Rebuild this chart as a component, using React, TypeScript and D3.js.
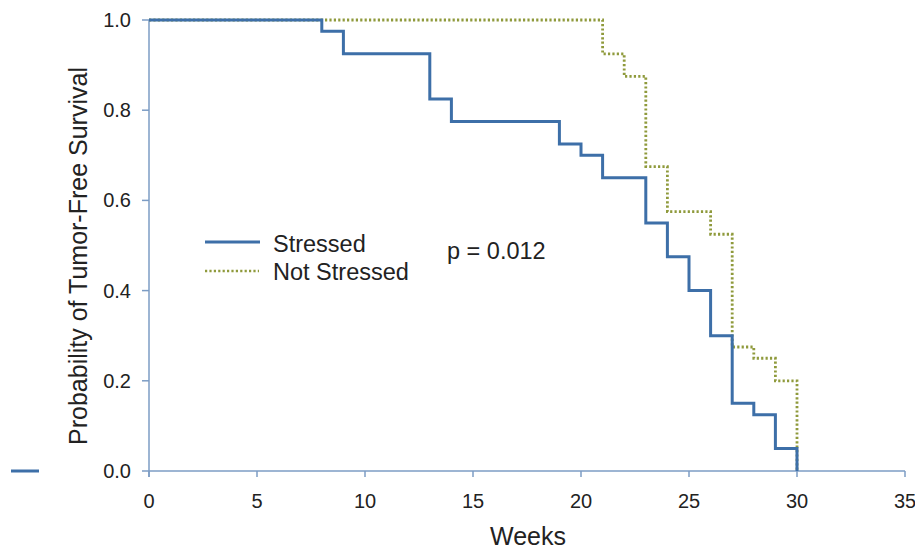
import React from "react";
import * as d3 from "d3";

const stressedTimes = [0, 8, 9, 13, 14, 19, 20, 21, 23, 24, 25, 26, 27, 28, 29, 30];
const stressedSurv = [1.0, 0.975, 0.925, 0.825, 0.775, 0.725, 0.7, 0.65, 0.55, 0.475, 0.4, 0.3, 0.15, 0.125, 0.05, 0.0];
const notStressedTimes = [0, 21, 22, 23, 24, 26, 27, 28, 29, 30];
const notStressedSurv = [1.0, 0.925, 0.875, 0.675, 0.575, 0.525, 0.275, 0.25, 0.2, 0.0];
const xTicks = [0, 5, 10, 15, 20, 25, 30, 35];
const yTicks = [0, 0.2, 0.4, 0.6, 0.8, 1.0];
const seriesNames = ["Stressed", "Not Stressed"];
const pValueLabel = "p = 0.012";

const W = 915;
const H = 553;
const FONT = "'Liberation Sans', Arial, sans-serif";
const BLUE = "#3d6fa8";
const OLIVE = "#8f9a3c";
const AXIS = "#7c9cc4";

export default function App() {
  const x = d3.scaleLinear().domain([0, 35]).range([149, 905]);
  const y = d3.scaleLinear().domain([0, 1]).range([471, 20]);
  const line = d3
    .line<[number, number]>()
    .x((d) => x(d[0]))
    .y((d) => y(d[1]))
    .curve(d3.curveStepAfter);
  const stressedPts: [number, number][] = stressedTimes.map((t, i) => [t, stressedSurv[i]]);
  const notPts: [number, number][] = notStressedTimes.map((t, i) => [t, notStressedSurv[i]]);

  return (
    <svg
      width={W}
      height={H}
      style={{ position: "absolute", left: 0, top: 0, background: "#fff" }}
      fontFamily={FONT}
    >
      {/* stray mark on left */}
      <line x1={11} x2={39} y1={471} y2={471} stroke={BLUE} strokeWidth={3} />
      {/* axes */}
      <line x1={x(0)} x2={x(35)} y1={y(0)} y2={y(0)} stroke={AXIS} strokeWidth={1.5} />
      <line x1={x(0)} x2={x(0)} y1={y(0) + 6} y2={y(1)} stroke={AXIS} strokeWidth={1.5} />
      {xTicks.map((t) => (
        <g key={"x" + t}>
          <line x1={x(t)} x2={x(t)} y1={y(0)} y2={y(0) + 6} stroke={AXIS} strokeWidth={1.5} />
          <text x={x(t)} y={508} textAnchor="middle" fontSize={20} fill="#222">
            {t}
          </text>
        </g>
      ))}
      {yTicks.map((t) => (
        <g key={"y" + t}>
          <line x1={x(0) - 7} x2={x(0)} y1={y(t)} y2={y(t)} stroke={AXIS} strokeWidth={1.5} />
          <text x={131} y={y(t) + 7} textAnchor="end" fontSize={20} fill="#222">
            {t.toFixed(1)}
          </text>
        </g>
      ))}
      <text x={528} y={545} textAnchor="middle" fontSize={25} fill="#222">
        Weeks
      </text>
      <text
        transform={`translate(87,256) rotate(-90)`}
        textAnchor="middle"
        fontSize={25}
        fill="#222"
      >
        Probability of Tumor-Free Survival
      </text>
      {/* curves */}
      <path
        d={line(notPts) || ""}
        fill="none"
        stroke={OLIVE}
        strokeWidth={2.8}
        strokeDasharray="2.2,2.2"
      />
      <path d={line(stressedPts) || ""} fill="none" stroke={BLUE} strokeWidth={3} />
      {/* legend */}
      <line x1={205} x2={260} y1={242} y2={242} stroke={BLUE} strokeWidth={3} />
      <text x={273} y={252} fontSize={23.5} fill="#222">
        {seriesNames[0]}
      </text>
      <line x1={205} x2={259} y1={271} y2={271} stroke={OLIVE} strokeWidth={2.5} strokeDasharray="2.2,2.2" />
      <text x={273} y={280} fontSize={23.5} fill="#222">
        {seriesNames[1]}
      </text>
      <text x={447} y={259} fontSize={23.5} fill="#222">
        {pValueLabel}
      </text>
    </svg>
  );
}
